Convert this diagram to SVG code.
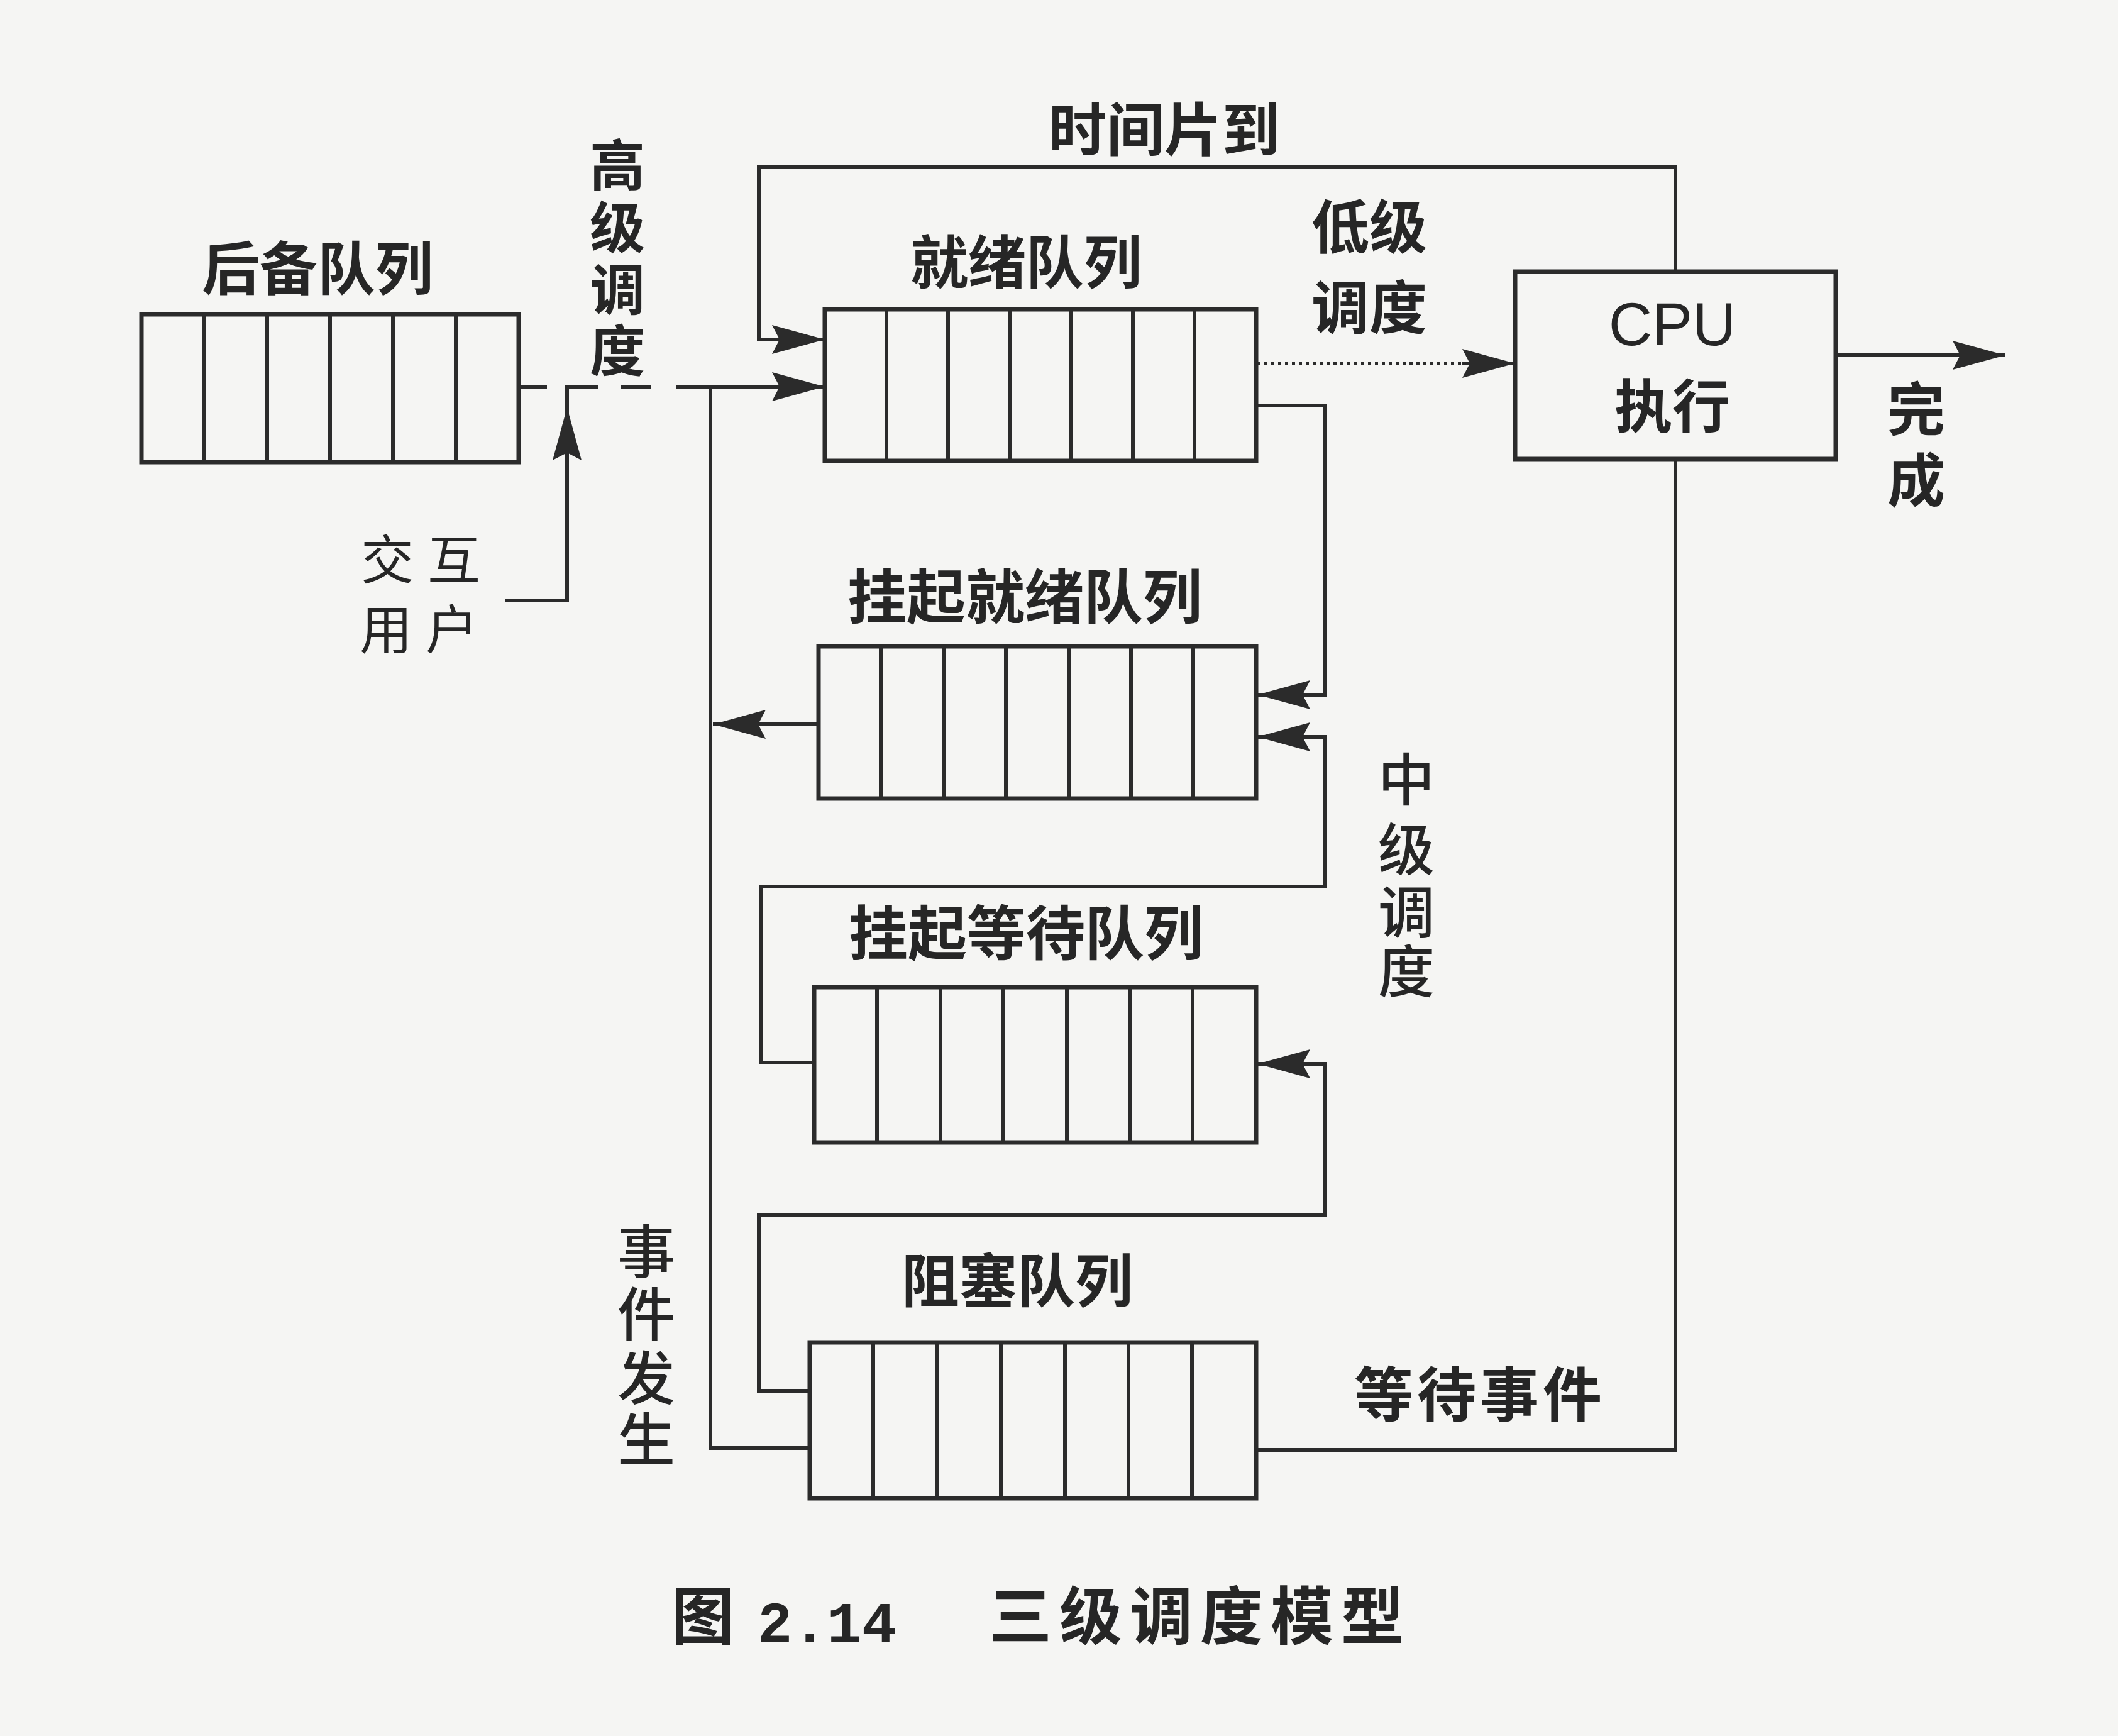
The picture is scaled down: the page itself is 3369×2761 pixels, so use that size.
<svg xmlns="http://www.w3.org/2000/svg" width="3369" height="2761" viewBox="0 0 3369 2761">
<style>
.bg{fill:#f5f5f3}
.box{fill:none;stroke:#2b2b2b;stroke-width:7}
.cell{stroke:#2b2b2b;stroke-width:6}
.wire{fill:none;stroke:#2b2b2b;stroke-width:6;stroke-linejoin:miter}
.dot{fill:none;stroke:#2b2b2b;stroke-width:6;stroke-dasharray:5 6}
.lbl{font-family:"Noto Sans CJK SC","Noto Sans",sans-serif;font-weight:700;font-size:92px;fill:#262626;text-anchor:middle}
.cpu{font-family:"Liberation Sans",Arial,sans-serif;font-size:96px;fill:#262626;text-anchor:middle}
.cap{font-family:"Noto Sans CJK SC","Noto Sans",sans-serif;font-weight:700;font-size:100px;fill:#262626}
.capn{font-family:"Liberation Mono",monospace;font-weight:700;font-size:92px;fill:#262626}
</style>
<defs>
<marker id="arr" markerUnits="userSpaceOnUse" viewBox="0 -25 86 50" markerWidth="86" markerHeight="50" refX="84" refY="0" orient="auto">
<path d="M0,-23 L84,0 L0,23 L12,0 Z" fill="#2b2b2b" stroke="none"/>
</marker>
</defs>
<rect class="bg" x="0" y="0" width="3369" height="2761"/>

<g id="connectors">
<path class="wire" d="M2665,432 V265 H1207 V540 H1312" marker-end="url(#arr)"/>
<path class="wire" d="M825,615 H870"/>
<path class="wire" d="M987,615 H1036"/>
<path class="wire" d="M1076,615 H1312" marker-end="url(#arr)"/>
<path class="wire" d="M804,955 H902 V648" marker-end="url(#arr)"/>
<path class="wire" d="M902,650 V615 H951"/>
<path class="wire" d="M1130,615 V2303 H1288"/>
<path class="wire" d="M1302,1152 H1134" marker-end="url(#arr)"/>
<path class="wire" d="M1998,645 H2108 V1105 H2000" marker-end="url(#arr)"/>
<path class="wire" d="M1295,1690 H1210 V1410 H2108 V1172 H2000" marker-end="url(#arr)"/>
<path class="wire" d="M1288,2212 H1207 V1932 H2108 V1692 H2000" marker-end="url(#arr)"/>
<path class="dot" d="M2000,578 H2330"/>
<path class="wire" d="M2325,578 H2410" marker-end="url(#arr)"/>
<path class="wire" d="M2920,565 H3190" marker-end="url(#arr)"/>
<path class="wire" d="M2665,730 V2306 H1998"/>
</g>

<g id="backup-queue">
<rect class="box" x="225" y="500" width="600" height="235"/>
<path class="cell" d="M325,500V735M425,500V735M525,500V735M625,500V735M725,500V735"/>
<text class="lbl" x="505" y="461">后备队列</text>
</g>

<g id="ready-queue">
<rect class="box" x="1312" y="492" width="686" height="241"/>
<path class="cell" d="M1410,492V733M1508,492V733M1606,492V733M1704,492V733M1802,492V733M1900,492V733"/>
<text class="lbl" x="1632" y="451">就绪队列</text>
</g>

<g id="suspended-ready-queue">
<rect class="box" x="1302" y="1028" width="696" height="242"/>
<path class="cell" d="M1401,1028V1270M1501,1028V1270M1600,1028V1270M1700,1028V1270M1799,1028V1270M1898,1028V1270"/>
<text class="lbl" x="1630" y="984" style="font-size:94px">挂起就绪队列</text>
</g>

<g id="suspended-wait-queue">
<rect class="box" x="1295" y="1570" width="703" height="247"/>
<path class="cell" d="M1395,1570V1817M1496,1570V1817M1596,1570V1817M1697,1570V1817M1797,1570V1817M1897,1570V1817"/>
<text class="lbl" x="1632" y="1519" style="font-size:94px">挂起等待队列</text>
</g>

<g id="blocked-queue">
<rect class="box" x="1288" y="2135" width="710" height="248"/>
<path class="cell" d="M1389,2135V2383M1491,2135V2383M1592,2135V2383M1694,2135V2383M1795,2135V2383M1896,2135V2383"/>
<text class="lbl" x="1618" y="2071">阻塞队列</text>
</g>

<g id="cpu">
<rect class="box" x="2410" y="432" width="510" height="298"/>
<text class="cpu" x="2660" y="549">CPU</text>
<text class="lbl" x="2660" y="680">执行</text>
</g>

<g id="labels">
<text class="lbl" x="1852" y="240">时间片到</text>
<text class="lbl" style="font-size:88px" x="982 982 982 982" y="295 394 493 590">高级调度</text>
<text class="lbl" style="font-size:84px;font-weight:400" x="616 722" y="921">交互</text>
<text class="lbl" style="font-size:84px;font-weight:400" x="614 719" y="1032">用户</text>
<text class="lbl" x="2178" y="395">低级</text>
<text class="lbl" x="2178" y="523">调度</text>
<text class="lbl" style="font-size:92px" x="3048 3048" y="685 798">完成</text>
<text class="lbl" style="font-size:90px;font-weight:500" x="2237 2237 2237 2237" y="1273 1384 1484 1578">中级调度</text>
<text class="lbl" style="font-weight:500" x="1028 1028 1028 1028" y="2025 2124 2226 2324">事件发生</text>
<text class="lbl" style="font-size:94px;letter-spacing:6px" x="2354" y="2253">等待事件</text>
</g>

<g id="caption">
<text class="cap" x="1068" y="2607">图</text>
<text class="capn" x="1205" y="2612">2.14</text>
<text class="cap" x="1573" y="2607" style="letter-spacing:12px">三级调度模型</text>
</g>
</svg>
